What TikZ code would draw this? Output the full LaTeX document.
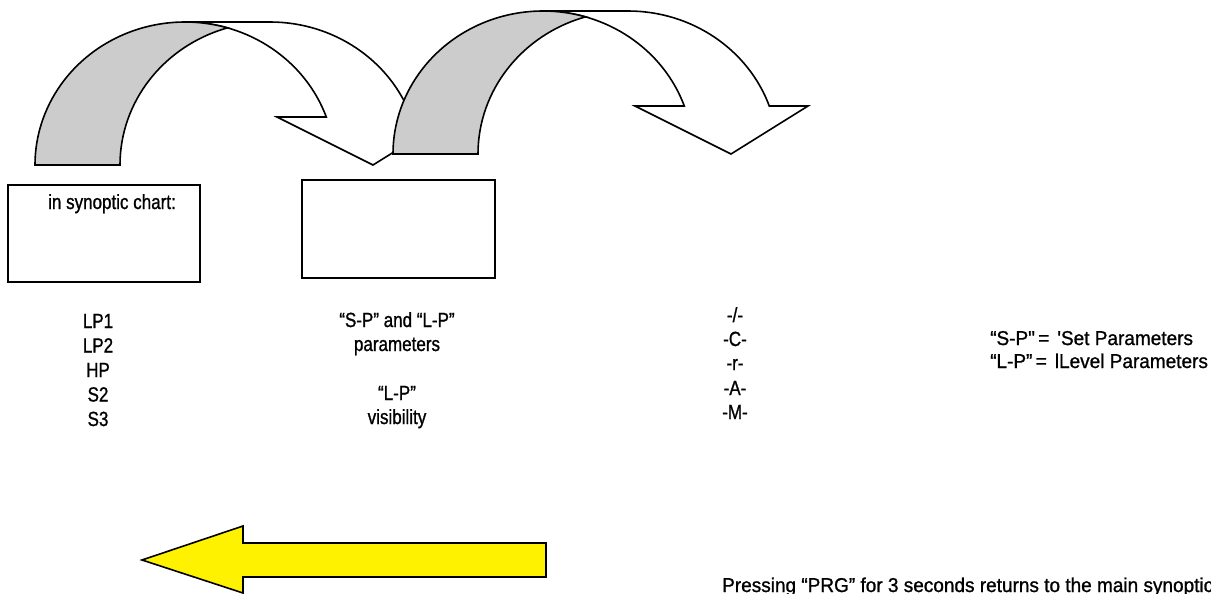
\documentclass[tikz,border=0pt]{standalone}
\usepackage{fontspec}
\setmainfont[FakeStretch=0.83,FakeBold=1]{Liberation Sans}
\newfontfamily\legfont[FakeStretch=0.95,FakeBold=1]{Liberation Sans}
\newcommand\curvarrow[1]{%
  \begin{scope}[shift={#1}]
    \draw[front] (150pt,143pt) -- (235pt,143pt)
      arc[start angle=90,end angle=19.61,x radius=150pt,y radius=143pt]
      -- (415pt,48pt) -- (338pt,0pt) -- (242pt,48pt) -- (291.3pt,48pt)
      arc[start angle=19.61,end angle=90,x radius=150pt,y radius=143pt] -- cycle;
    \draw[back] (0pt,0pt)
      arc[start angle=180,end angle=73.54,x radius=150pt,y radius=143pt]
      arc[start angle=106.46,end angle=180,x radius=150pt,y radius=143pt] -- cycle;
  \end{scope}}
\begin{document}
\begin{tikzpicture}[x=1pt,y=-1pt,line join=miter]
\tikzset{
  outline/.style={draw=black,line width=1.6pt},
  back/.style={outline,fill=black!20},
  front/.style={outline,fill=white},
  frame/.style={draw=black,line width=1.6pt,inner sep=0pt},
  txt/.style={anchor=base,inner sep=0pt,font=\fontsize{20.5}{24}\selectfont},
  txtw/.style={anchor=base west,inner sep=0pt,font=\legfont\fontsize{20}{24}\selectfont},
}
\useasboundingbox (0,0) rectangle (1211,594);
\fill[white] (0,0) rectangle (1211,594);
% curved arrows
\curvarrow{(35,165)}
\curvarrow{(393,154)}
% boxes
\node[frame,anchor=north west,minimum width=192pt,minimum height=97pt] (box1) at (7,184) {};
\node[frame,anchor=north west,minimum width=193pt,minimum height=98pt] (box2) at (301,179) {};
\node[txt] (chart) at (112,209) {in synoptic chart:};
% column 1
\node[txt] (lp1) at (98,328) {LP1};
\node[txt] (lp2) at (98,352.5) {LP2};
\node[txt] (hp) at (98,377) {HP};
\node[txt] (s2) at (98,401.5) {S2};
\node[txt] (s3) at (98,426) {S3};
% column 2
\node[txt] (sp) at (397,327) {“S-P” and “L-P”};
\node[txt] (par) at (397,351) {parameters};
\node[txt] (lpq) at (397,400) {“L-P”};
\node[txt] (vis) at (397,424) {visibility};
% column 3
\node[txt] (m1) at (735,322) {-/-};
\node[txt] (m2) at (735,346) {-C-};
\node[txt] (m3) at (735,370) {-r-};
\node[txt] (m4) at (735,395) {-A-};
\node[txt] (m5) at (735,419) {-M-};
% legend
\node[txtw] (leg1) at (990,345) {“S-P"\,=\hspace{8pt}'Set Parameters};
\node[txtw] (leg2) at (990,368) {“L-P”\,=\hspace{8pt}lLevel Parameters};
% yellow arrow
\draw[outline,fill=yellow] (142,560) -- (243,526) -- (243,543) -- (546,543)
  -- (546,577) -- (243,577) -- (243,593) -- cycle;
\node[txtw] (note) at (722,592) {Pressing “PRG” for 3 seconds returns to the main synoptic};
\end{tikzpicture}
\end{document}
